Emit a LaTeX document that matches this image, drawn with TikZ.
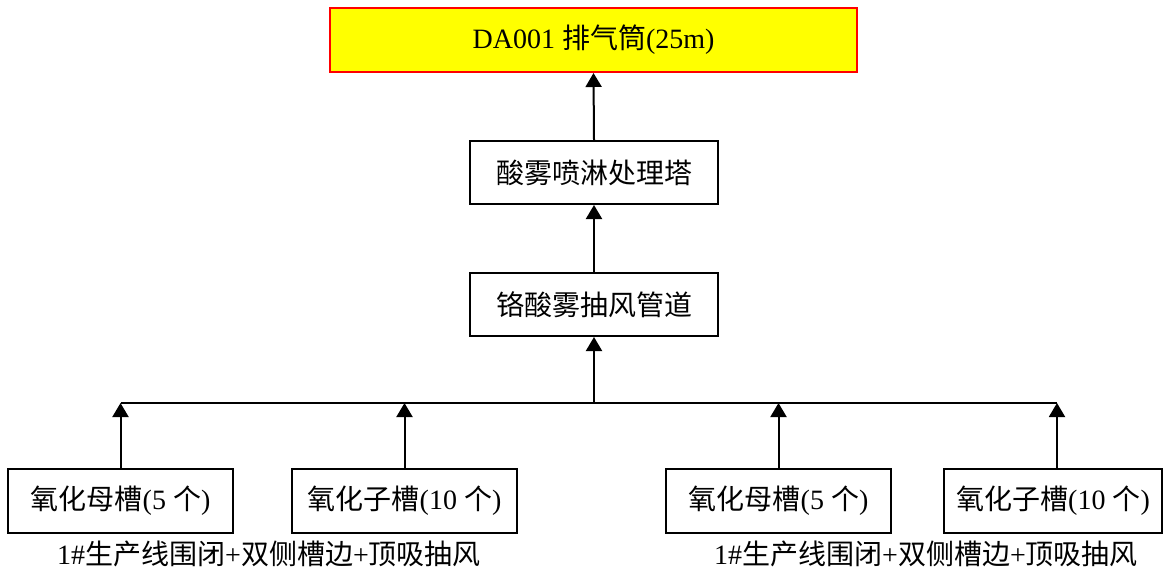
\documentclass[tikz,border=0pt]{standalone}
\usepackage{fontspec}
\setmainfont{Liberation Serif}
\newfontfamily\cjk{Noto Sans CJK SC}
\usetikzlibrary{arrows.meta}
\definecolor{pureyellow}{RGB}{255,255,0}
\definecolor{purered}{RGB}{255,0,0}
\tikzset{
  box/.style={draw=black, line width=2pt, fill=white, inner sep=0pt, minimum height=63pt, font=\fontsize{28}{32}\selectfont},
  topbox/.style={box, draw=purered, fill=pureyellow, minimum width=527pt, minimum height=64pt},
  midbox/.style={box, minimum width=248pt},
  tank/.style={box, minimum width=225pt, minimum height=64pt},
  lbl/.style={inner sep=0pt, font=\fontsize{28}{32}\selectfont},
  conn/.style={line width=2pt},
  arr/.style={conn, -{Triangle[width=16pt,length=14pt]}}
}
\begin{document}
\begin{tikzpicture}[x=1pt,y=-1pt]
\useasboundingbox (0,0) rectangle (1164,576);
\node[topbox] (stack) at (593.5,40) {DA001 {\cjk 排气筒}(25m)};
\node[midbox] (tower) at (594,172.5) {\cjk 酸雾喷淋处理塔};
\node[midbox] (duct) at (594,304.5) {\cjk 铬酸雾抽风管道};
\node[tank] (a) at (120.5,501) {{\cjk 氧化母槽}(5 {\cjk 个})};
\node[tank] (b) at (404.5,501) {{\cjk 氧化子槽}(10 {\cjk 个})};
\node[tank] (c) at (778.5,501) {{\cjk 氧化母槽}(5 {\cjk 个})};
\node[tank, minimum width=218pt] (d) at (1053,501) {{\cjk 氧化子槽}(10 {\cjk 个})};
\node[lbl] (la) at (269,554) {1\#{\cjk 生产线围闭}+{\cjk 双侧槽边}+{\cjk 顶吸抽风}};
\node[lbl] (lc) at (926,554) {1\#{\cjk 生产线围闭}+{\cjk 双侧槽边}+{\cjk 顶吸抽风}};
\coordinate (busL) at (120.5,403);
\coordinate (busR) at (1057,403);
\coordinate (busM) at (594,403);
\draw[conn] (busL) -- (busR);
\draw[arr] (a.north) -- (a.north |- busL);
\draw[arr] (b.north) -- (b.north |- busL);
\draw[arr] (c.north) -- (c.north |- busL);
\draw[arr] (busR |- d.north) -- (busR);
\draw[arr] (busM) -- (duct.south);
\draw[arr] (duct.north) -- (tower.south);
\draw[arr] (tower.north) -- (stack.south);
\end{tikzpicture}
\end{document}
